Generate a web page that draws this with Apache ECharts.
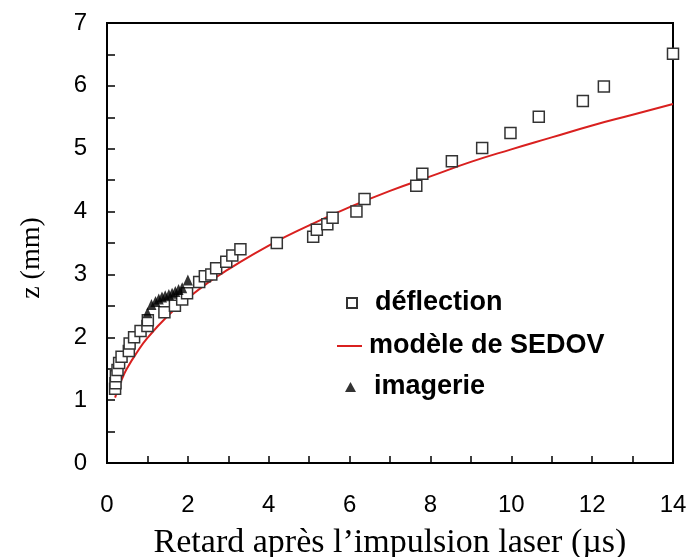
<!DOCTYPE html>
<html>
<head>
<meta charset="utf-8">
<script src="https://cdn.jsdelivr.net/npm/echarts@6/dist/echarts.min.js"></script>
<style>
html,body{margin:0;padding:0;background:#fff;}
#chart{width:690px;height:557px;}
</style>
</head>
<body>
<div id="chart"></div>
<script>
// Data
const deflectionX = [0.2,0.21,0.22,0.26,0.3,0.36,0.54,0.56,0.67,0.83,1.0,1.01,1.42,1.68,1.86,1.98,2.28,2.42,2.58,2.7,2.95,3.1,3.3,4.2,5.1,5.19,5.45,5.58,6.17,6.37,7.65,7.8,8.53,9.28,9.98,10.68,11.77,12.29,14.0];
const deflectionY = [1.18,1.27,1.38,1.48,1.59,1.69,1.78,1.9,2.0,2.1,2.18,2.27,2.4,2.5,2.6,2.7,2.88,2.97,3.0,3.1,3.2,3.3,3.4,3.5,3.6,3.71,3.8,3.9,4.0,4.2,4.41,4.6,4.8,5.01,5.25,5.51,5.76,5.99,6.51];

const sedovX = [0.2,0.3,0.4,0.5,0.7,1,1.5,2,2.5,3,4,5,6,7,8,9,10,11,12,13,14];
const sedovY = [1.04,1.23,1.38,1.51,1.72,1.99,2.34,2.62,2.87,3.08,3.46,3.78,4.07,4.33,4.56,4.79,4.99,5.18,5.37,5.54,5.71];

const imagerieX = [1.0,1.1,1.2,1.28,1.36,1.44,1.53,1.61,1.69,1.77,1.86,2.0];
const imagerieY = [2.39,2.52,2.57,2.61,2.64,2.66,2.68,2.70,2.73,2.76,2.79,2.91];

const xTicks = [0,2,4,6,8,10,12,14];
const yTicks = [0,1,2,3,4,5,6,7];

const seriesNames = ['déflection','modèle de SEDOV','imagerie'];
const xTitle = 'Retard après l\u2019impulsion laser (\u00b5s)';
const yTitle = 'z (mm)';

function zip(a,b){ return a.map((v,i)=>[v,b[i]]); }

const chart = echarts.init(document.getElementById('chart'), null, {renderer:'canvas'});
const axisLineStyle = {color:'#000', width:2};
const legendText = {fontFamily:'Liberation Sans, Arial, sans-serif', fontSize:27, fontWeight:'bold', color:'#000', lineHeight:30};
chart.setOption({
  animation:false,
  backgroundColor:'#fff',
  grid:{left:107, right:17, top:23, bottom:94, containLabel:false, outerBoundsMode:'none', show:true, borderColor:'#000', borderWidth:2, backgroundColor:'transparent'},
  legend:[
    {
      orient:'vertical', left:346, top:288, padding:0, itemWidth:10, itemHeight:10, selectedMode:false,
      data:[{name:seriesNames[0], icon:'rect'}],
      textStyle:Object.assign({padding:[0,0,0,13]}, legendText)
    },
    {
      orient:'vertical', left:337, top:331, padding:0, itemWidth:25, itemHeight:2, selectedMode:false,
      data:[{name:seriesNames[1], icon:'rect'}],
      textStyle:Object.assign({padding:[0,0,0,2]}, legendText)
    },
    {
      orient:'vertical', left:345, top:372, padding:0, itemWidth:11, itemHeight:10, selectedMode:false,
      data:[{name:seriesNames[2], icon:'triangle'}],
      textStyle:Object.assign({padding:[0,0,0,13]}, legendText)
    }
  ],
  xAxis:{
    type:'value', min:xTicks[0], max:xTicks[xTicks.length-1], interval:2,
    name:xTitle, nameLocation:'middle', nameGap:63,
    nameTextStyle:{fontFamily:'Liberation Serif, Times New Roman, serif', fontSize:34, color:'#000'},
    axisLine:{show:true, onZero:false, lineStyle:axisLineStyle},
    axisTick:{show:true, inside:true, length:7, lineStyle:{color:'#000', width:1.5}},
    minorTick:{show:true, splitNumber:2, length:7, lineStyle:{color:'#000', width:1.5}},
    axisLabel:{margin:30, fontFamily:'Liberation Sans, Arial, sans-serif', fontSize:24, color:'#000'},
    splitLine:{show:false}
  },
  yAxis:{
    type:'value', min:yTicks[0], max:yTicks[yTicks.length-1], interval:1,
    name:yTitle, nameLocation:'middle', nameGap:61, nameRotate:90,
    nameTextStyle:{fontFamily:'Liberation Serif, Times New Roman, serif', fontSize:28, color:'#000', padding:[0,30,0,0]},
    axisLine:{show:true, onZero:false, lineStyle:axisLineStyle},
    axisTick:{show:true, inside:true, length:8, lineStyle:{color:'#000', width:1.5}},
    minorTick:{show:true, splitNumber:2, length:8, lineStyle:{color:'#000', width:1.5}},
    axisLabel:{margin:20, fontFamily:'Liberation Sans, Arial, sans-serif', fontSize:24, color:'#000'},
    splitLine:{show:false}
  },
  series:[
    {
      name:seriesNames[1], type:'line', data:zip(sedovX, sedovY),
      smooth:true, showSymbol:false, symbol:'none',
      lineStyle:{color:'#d9201f', width:2}, itemStyle:{color:'#d9201f'}, z:2
    },
    {
      name:seriesNames[0], type:'scatter', data:zip(deflectionX, deflectionY),
      symbol:'rect', symbolSize:11,
      itemStyle:{color:'#fff', borderColor:'#333', borderWidth:1.5, opacity:1}, z:3
    },
    {
      name:seriesNames[2], type:'scatter', data:zip(imagerieX, imagerieY),
      symbol:'triangle', symbolSize:[10,11],
      itemStyle:{color:'#000'}, z:4
    }
  ]
});
</script>
</body>
</html>
